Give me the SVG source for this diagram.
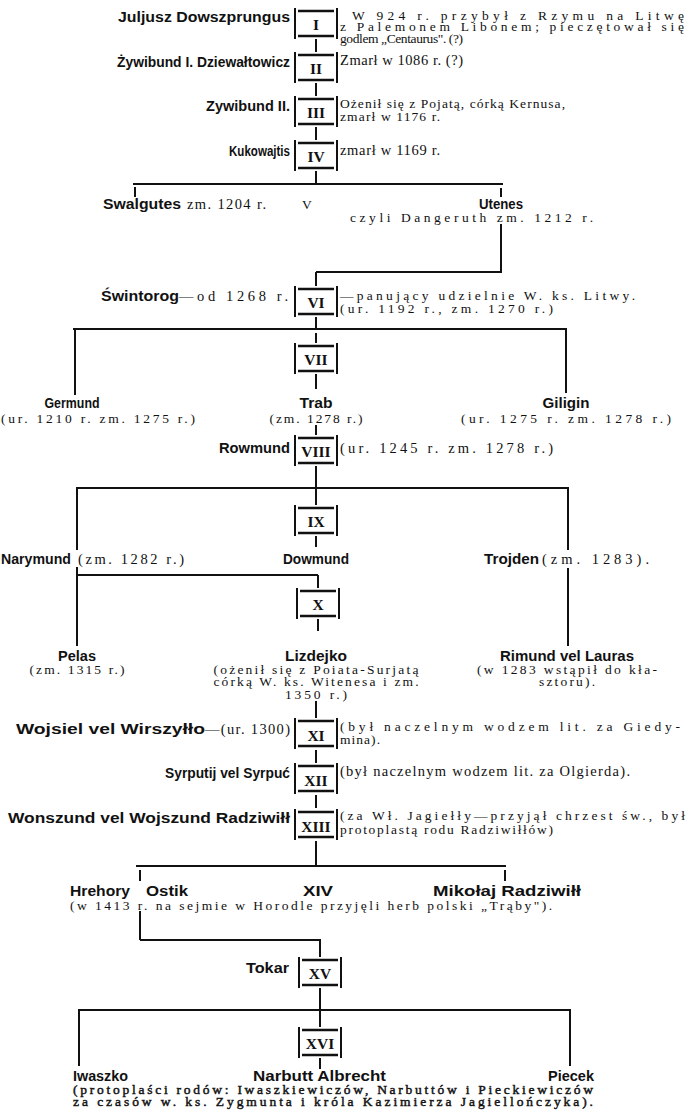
<svg xmlns="http://www.w3.org/2000/svg" width="689" height="1110" viewBox="0 0 689 1110">
<style>
.bg{fill:#fff}
.nm{font-family:"Liberation Sans","Arimo",sans-serif;font-weight:bold;font-size:14.5px;fill:#111}
.tx{font-family:"Liberation Serif","DejaVu Serif",serif;font-size:13.5px;fill:#111}
.t1{font-size:14.5px}
.hv{font-family:"Liberation Serif","DejaVu Serif",serif;font-size:13.5px;fill:#111;stroke:#111;stroke-width:0.45}
.rn{font-family:"Liberation Serif","DejaVu Serif",serif;font-weight:bold;font-size:15.5px;fill:#111;text-anchor:middle}
.c{text-anchor:middle}
.e{text-anchor:end}
.ln{stroke:#111;stroke-width:2;fill:none}
.bx{stroke:#111;stroke-width:2;fill:none}
.bar{stroke:#111;stroke-width:2.6;fill:none}
</style>
<defs>
<g id="box">
<line class="bx" x1="-21" y1="0" x2="-21" y2="31"/>
<line class="bx" x1="21" y1="0" x2="21" y2="31"/>
<line class="bar" x1="-18" y1="3" x2="18" y2="3"/>
<line class="bar" x1="-18" y1="28" x2="18" y2="28"/>
</g>
</defs>
<rect class="bg" x="0" y="0" width="689" height="1110"/>

<g id="connectors">
<line class="ln" x1="316" y1="39" x2="316" y2="52"/>
<line class="ln" x1="316" y1="83" x2="316" y2="96"/>
<line class="ln" x1="316" y1="127" x2="316" y2="140"/>
<line class="ln" x1="316" y1="171" x2="316" y2="184"/>
<line class="ln" x1="133" y1="184" x2="503" y2="184"/>
<line class="ln" x1="135" y1="187" x2="135" y2="197"/>
<line class="ln" x1="501" y1="188" x2="501" y2="197"/>
<line class="ln" x1="501" y1="224" x2="501" y2="272"/>
<line class="ln" x1="316" y1="272" x2="502" y2="272"/>
<line class="ln" x1="316" y1="272" x2="316" y2="286"/>
<line class="ln" x1="316" y1="317" x2="316" y2="329"/>
<line class="ln" x1="73" y1="329" x2="567" y2="329"/>
<line class="ln" x1="75" y1="329" x2="75" y2="395"/>
<line class="ln" x1="566" y1="329" x2="566" y2="393"/>
<line class="ln" x1="316" y1="333" x2="316" y2="343"/>
<line class="ln" x1="316" y1="374" x2="316" y2="389"/>
<line class="ln" x1="316" y1="425" x2="316" y2="435"/>
<line class="ln" x1="316" y1="466" x2="316" y2="488"/>
<line class="ln" x1="76" y1="488" x2="569" y2="488"/>
<line class="ln" x1="77" y1="488" x2="77" y2="550"/>
<line class="ln" x1="568" y1="488" x2="568" y2="550"/>
<line class="ln" x1="316" y1="488" x2="316" y2="505"/>
<line class="ln" x1="316" y1="536" x2="316" y2="547"/>
<line class="ln" x1="77" y1="567" x2="77" y2="646"/>
<line class="ln" x1="77" y1="575" x2="318" y2="575"/>
<line class="ln" x1="318" y1="575" x2="318" y2="588"/>
<line class="ln" x1="568" y1="568" x2="568" y2="646"/>
<line class="ln" x1="318" y1="619" x2="318" y2="631"/>
<line class="ln" x1="316" y1="701" x2="316" y2="718"/>
<line class="ln" x1="316" y1="750" x2="316" y2="763"/>
<line class="ln" x1="316" y1="795" x2="316" y2="808"/>
<line class="ln" x1="316" y1="841" x2="316" y2="866"/>
<line class="ln" x1="136" y1="866" x2="506" y2="866"/>
<line class="ln" x1="140" y1="870" x2="140" y2="881"/>
<line class="ln" x1="505" y1="870" x2="505" y2="881"/>
<line class="ln" x1="140" y1="911" x2="140" y2="940"/>
<line class="ln" x1="140" y1="940" x2="321" y2="940"/>
<line class="ln" x1="320" y1="940" x2="320" y2="957"/>
<line class="ln" x1="320" y1="988" x2="320" y2="1010"/>
<line class="ln" x1="78" y1="1010" x2="571" y2="1010"/>
<line class="ln" x1="79" y1="1010" x2="79" y2="1066"/>
<line class="ln" x1="570" y1="1010" x2="570" y2="1066"/>
<line class="ln" x1="320" y1="1010" x2="320" y2="1027"/>
<line class="ln" x1="320" y1="1058" x2="320" y2="1069"/>
</g>

<g id="n1">
<text class="nm" x="118" y="22" textLength="172" lengthAdjust="spacingAndGlyphs">Juljusz Dowszprungus</text>
<use href="#box" x="316" y="8"/>
<text class="rn" x="316" y="30">I</text>
<text class="tx" x="352" y="20" textLength="332" lengthAdjust="spacing">W 924 r. przybył z Rzymu na Litwę</text>
<text class="tx" x="340" y="31" textLength="344" lengthAdjust="spacing">z Palemonem Libonem; pieczętował się</text>
<text class="tx" x="340" y="43" textLength="123" lengthAdjust="spacing">godlem „Centaurus". (?)</text>
</g>

<g id="n2">
<text class="nm" x="117" y="67" textLength="173" lengthAdjust="spacingAndGlyphs">Żywibund I. Dziewałtowicz</text>
<use href="#box" x="316" y="52"/>
<text class="rn" x="316" y="74">II</text>
<text class="tx t1" x="340" y="65" textLength="123" lengthAdjust="spacing">Zmarł w 1086 r. (?)</text>
</g>

<g id="n3">
<text class="nm" x="206" y="111" textLength="84" lengthAdjust="spacingAndGlyphs">Zywibund II.</text>
<use href="#box" x="316" y="96"/>
<text class="rn" x="316" y="118">III</text>
<text class="tx" x="340" y="108" textLength="225" lengthAdjust="spacing">Ożenił się z Pojatą, córką Kernusa,</text>
<text class="tx" x="340" y="121" textLength="100" lengthAdjust="spacing">zmarł w 1176 r.</text>
</g>

<g id="n4">
<text class="nm" x="229" y="156" textLength="61" lengthAdjust="spacingAndGlyphs">Kukowajtis</text>
<use href="#box" x="316" y="140"/>
<text class="rn" x="316" y="162">IV</text>
<text class="tx t1" x="340" y="155" textLength="100" lengthAdjust="spacing">zmarł w 1169 r.</text>
</g>

<g id="n5">
<text class="nm" x="103" y="209" textLength="78" lengthAdjust="spacingAndGlyphs">Swalgutes</text>
<text class="tx t1" x="187" y="209" textLength="79" lengthAdjust="spacing">zm. 1204 r.</text>
<text class="tx" x="302" y="209" font-size="16">V</text>
<text class="nm c" x="501" y="209" textLength="44" lengthAdjust="spacingAndGlyphs">Utenes</text>
<text class="tx" x="350" y="222" textLength="243" lengthAdjust="spacing">czyli Dangeruth zm. 1212 r.</text>
</g>

<g id="n6">
<text class="nm" x="101" y="301" textLength="78" lengthAdjust="spacingAndGlyphs">Świntorog</text>
<text class="tx t1" x="179" y="301" textLength="109" lengthAdjust="spacing">—od 1268 r.</text>
<use href="#box" x="316" y="286"/>
<text class="rn" x="316" y="308">VI</text>
<text class="tx" x="340" y="300" textLength="295" lengthAdjust="spacing">—panujący udzielnie W. ks. Litwy.</text>
<text class="tx" x="340" y="313" textLength="213" lengthAdjust="spacing">(ur. 1192 r., zm. 1270 r.)</text>
</g>

<g id="n7">
<use href="#box" x="316" y="343"/>
<text class="rn" x="316" y="365">VII</text>
<text class="nm c" x="72" y="408" textLength="55" lengthAdjust="spacingAndGlyphs">Germund</text>
<text class="tx" x="1" y="423" textLength="194" lengthAdjust="spacing">(ur. 1210 r. zm. 1275 r.)</text>
<text class="nm c" x="316" y="408" textLength="33" lengthAdjust="spacingAndGlyphs">Trab</text>
<text class="tx c" x="316" y="423" textLength="93" lengthAdjust="spacing">(zm. 1278 r.)</text>
<text class="nm c" x="566" y="408" textLength="47" lengthAdjust="spacingAndGlyphs">Giligin</text>
<text class="tx c" x="566" y="423" textLength="210" lengthAdjust="spacing">(ur. 1275 r. zm. 1278 r.)</text>
</g>

<g id="n8">
<text class="nm" x="219" y="453" textLength="71" lengthAdjust="spacingAndGlyphs">Rowmund</text>
<use href="#box" x="316" y="435"/>
<text class="rn" x="316" y="457">VIII</text>
<text class="tx t1" x="340" y="453" textLength="213" lengthAdjust="spacing">(ur. 1245 r. zm. 1278 r.)</text>
</g>

<g id="n9">
<text class="nm" x="1" y="564" textLength="70" lengthAdjust="spacingAndGlyphs">Narymund</text>
<text class="tx t1" x="78" y="564" textLength="106" lengthAdjust="spacing">(zm. 1282 r.)</text>
<use href="#box" x="316" y="505"/>
<text class="rn" x="316" y="527">IX</text>
<text class="nm c" x="316" y="564" textLength="66" lengthAdjust="spacingAndGlyphs">Dowmund</text>
<text class="nm" x="484" y="564" textLength="55" lengthAdjust="spacingAndGlyphs">Trojden</text>
<text class="tx t1" x="542" y="564" textLength="107" lengthAdjust="spacing">(zm. 1283).</text>
</g>

<g id="n10">
<use href="#box" x="318" y="588"/>
<text class="rn" x="318" y="610">X</text>
<text class="nm c" x="77" y="661" textLength="38" lengthAdjust="spacingAndGlyphs">Pelas</text>
<text class="tx c" x="77" y="674" textLength="95" lengthAdjust="spacing">(zm. 1315 r.)</text>
<text class="nm c" x="316" y="661" textLength="62" lengthAdjust="spacingAndGlyphs">Lizdejko</text>
<text class="tx c" x="316" y="674" textLength="205" lengthAdjust="spacing">(ożenił się z Poiata-Surjatą</text>
<text class="tx c" x="316" y="686" textLength="205" lengthAdjust="spacing">córką W. ks. Witenesa i zm.</text>
<text class="tx c" x="316" y="699" textLength="62" lengthAdjust="spacing">1350 r.)</text>
<text class="nm c" x="567" y="661" textLength="134" lengthAdjust="spacingAndGlyphs">Rimund vel Lauras</text>
<text class="tx c" x="567" y="674" textLength="180" lengthAdjust="spacing">(w 1283 wstąpił do kła-</text>
<text class="tx c" x="567" y="686" textLength="56" lengthAdjust="spacing">sztoru).</text>
</g>

<g id="n11">
<text class="nm" x="16" y="734" textLength="189" lengthAdjust="spacingAndGlyphs">Wojsiel vel Wirszyłło</text>
<text class="tx t1" x="205" y="734" textLength="85" lengthAdjust="spacing">—(ur. 1300)</text>
<use href="#box" x="316" y="718"/>
<text class="rn" x="316" y="741">XI</text>
<text class="tx" x="340" y="731" textLength="340" lengthAdjust="spacing">(był naczelnym wodzem lit. za Giedy-</text>
<text class="tx" x="340" y="744" textLength="40" lengthAdjust="spacing">mina).</text>
</g>

<g id="n12">
<text class="nm" x="165" y="778" textLength="125" lengthAdjust="spacingAndGlyphs">Syrputij vel Syrpuć</text>
<use href="#box" x="316" y="763"/>
<text class="rn" x="316" y="786">XII</text>
<text class="tx t1" x="340" y="776" textLength="290" lengthAdjust="spacing">(był naczelnym wodzem lit. za Olgierda).</text>
</g>

<g id="n13">
<text class="nm" x="8" y="823" textLength="282" lengthAdjust="spacingAndGlyphs">Wonszund vel Wojszund Radziwiłł</text>
<use href="#box" x="316" y="809"/>
<text class="rn" x="316" y="832">XIII</text>
<text class="tx" x="340" y="820" textLength="345" lengthAdjust="spacing">(za Wł. Jagiełły—przyjął chrzest św., był</text>
<text class="tx" x="340" y="834" textLength="213" lengthAdjust="spacing">protoplastą rodu Radziwiłłów)</text>
</g>

<g id="n14">
<text class="nm" x="70" y="896" textLength="60" lengthAdjust="spacingAndGlyphs">Hrehory</text>
<text class="nm" x="146" y="896" textLength="42" lengthAdjust="spacingAndGlyphs">Ostik</text>
<text class="nm c" x="318" y="896" textLength="30" lengthAdjust="spacingAndGlyphs">XIV</text>
<text class="nm" x="433" y="896" textLength="148" lengthAdjust="spacingAndGlyphs">Mikołaj Radziwiłł</text>
<text class="tx" x="70" y="910" textLength="482" lengthAdjust="spacing">(w 1413 r. na sejmie w Horodle przyjęli herb polski „Trąby").</text>
</g>

<g id="n15">
<text class="nm" x="246" y="973" textLength="43" lengthAdjust="spacingAndGlyphs">Tokar</text>
<use href="#box" x="320" y="957"/>
<text class="rn" x="320" y="979">XV</text>
</g>

<g id="n16">
<use href="#box" x="320" y="1027"/>
<text class="rn" x="320" y="1049">XVI</text>
<text class="nm" x="73" y="1081" textLength="55" lengthAdjust="spacingAndGlyphs">Iwaszko</text>
<text class="nm" x="253" y="1081" textLength="133" lengthAdjust="spacingAndGlyphs">Narbutt Albrecht</text>
<text class="nm e" x="594" y="1081" textLength="46" lengthAdjust="spacingAndGlyphs">Piecek</text>
<text class="hv" x="73" y="1094" textLength="520" lengthAdjust="spacing">(protoplaści rodów: Iwaszkiewiczów, Narbuttów i Pieckiewiczów</text>
<text class="hv" x="73" y="1106" textLength="520" lengthAdjust="spacing">za czasów w. ks. Zygmunta i króla Kazimierza Jagiellończyka).</text>
</g>
</svg>
